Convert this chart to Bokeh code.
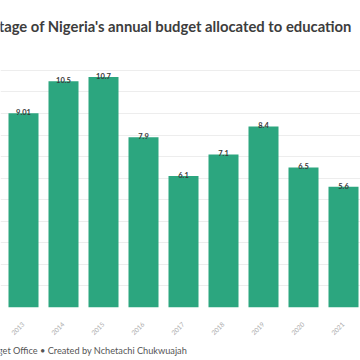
from math import pi
from bokeh.plotting import figure
from bokeh.layouts import column
from bokeh.models import ColumnDataSource, Range1d, FixedTicker, Label
from bokeh.core.properties import value
from bokeh.embed import file_html
from bokeh.resources import INLINE

years = ["2013", "2014", "2015", "2016", "2017", "2018", "2019", "2020", "2021"]
shares = [9.01, 10.5, 10.7, 7.9, 6.1, 7.1, 8.4, 6.5, 5.6]
share_labels = ["9.01", "10.5", "10.7", "7.9", "6.1", "7.1", "8.4", "6.5", "5.6"]
title_text = "Percentage of Nigeria's annual budget allocated to education"
footer_text = "Source: Budget Office \u2022 Created by Nchetachi Chukwuajah"

FONT = "Lato"
W = 360


def blank(h, bg):
    f = figure(width=W, height=h, output_backend="svg", toolbar_location=None,
               x_range=Range1d(0, 1), y_range=Range1d(0, h),
               x_axis_location=None, y_axis_location=None,
               min_border=0, min_border_left=0, min_border_right=0,
               min_border_top=0, min_border_bottom=0)
    f.grid.visible = False
    f.outline_line_color = None
    f.background_fill_color = bg
    f.border_fill_color = bg
    return f


top_line = blank(2, "#dedede")

title_fig = blank(58, "white")
title_fig.add_layout(Label(x=0, y=58 - 23, x_offset=-47, text=title_text,
                           text_font=FONT, text_font_style="bold",
                           text_font_size="14.8px", text_color="#3d3d3d",
                           text_baseline="middle", text_align="left"))

xs = list(range(len(years)))
src = ColumnDataSource(dict(x=xs, top=shares, lab=share_labels))

p = figure(width=W, height=279, output_backend="svg", toolbar_location=None,
           x_range=Range1d(-0.575, 8.425), y_range=Range1d(0, 11.46),
           min_border_left=0, min_border_right=0, min_border_top=0,
           min_border_bottom=32)
p.background_fill_color = "white"
p.border_fill_color = "white"
p.outline_line_color = None

p.vbar(x="x", top="top", bottom=0, width=0.75, source=src,
       fill_color="#2ca67f", line_color=None)
p.text(x="x", y="top", text="lab", source=src, text_align="center",
       text_baseline="bottom", y_offset=2, text_font=value(FONT),
       text_font_style="bold", text_font_size="7.5px", text_color="#3a3a3a")

p.yaxis.visible = False
p.ygrid.ticker = FixedTicker(ticks=list(range(0, 12)))
p.ygrid.grid_line_color = "#ededed"
p.ygrid.grid_line_width = 1
p.xgrid.visible = False
p.grid.level = "underlay"

ax = p.xaxis[0]
ax.ticker = FixedTicker(ticks=xs)
ax.major_label_overrides = {i: y for i, y in zip(xs, years)}
ax.major_label_orientation = pi / 4
ax.axis_line_color = None
ax.major_tick_line_color = None
ax.minor_tick_line_color = None
ax.major_label_standoff = 10
ax.major_label_text_font = FONT
ax.major_label_text_font_size = "6.5px"
ax.major_label_text_color = "#ababab"

bot_line = blank(1, "#cdcdcd")

foot_fig = blank(20, "white")
foot_fig.add_layout(Label(x=0, y=20 - 10, x_offset=-51, text=footer_text,
                          text_font=FONT, text_font_size="9.2px",
                          text_color="#555555", text_baseline="middle",
                          text_align="left"))

layout = column(top_line, title_fig, p, bot_line, foot_fig, spacing=0)
open("out.html", "w").write(file_html(layout, INLINE))
